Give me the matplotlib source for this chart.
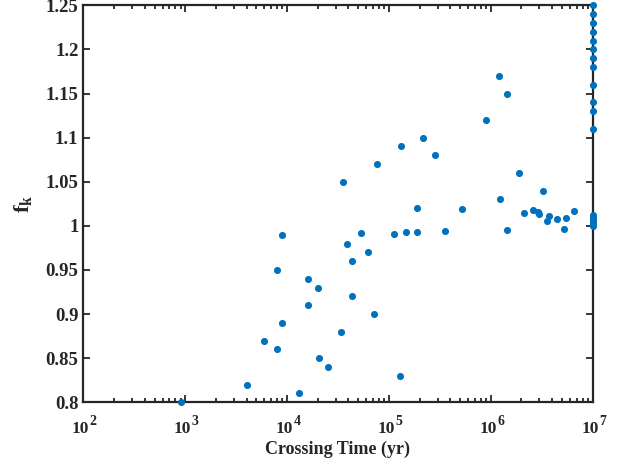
import numpy as np
import matplotlib
matplotlib.use("Agg")
import matplotlib.pyplot as plt
from matplotlib.ticker import LogLocator, FixedLocator, NullFormatter

plt.rcParams['font.family'] = ['Liberation Serif', 'DejaVu Serif']
plt.rcParams['font.weight'] = 'bold'
plt.rcParams['mathtext.fontset'] = 'custom'
plt.rcParams['mathtext.rm'] = 'Liberation Serif:bold'
plt.rcParams['mathtext.it'] = 'Liberation Serif:bold'
plt.rcParams['mathtext.bf'] = 'Liberation Serif:bold'

# crossing time (yr) and f_k
crossing_time = [
    912, 4025, 5960, 8000, 8000, 9020, 9020, 13150, 16100, 16100,
    20100, 20800, 25350, 33500, 35300, 38600, 43600, 43600, 53500, 61700,
    70600, 76700, 112000, 127000, 130000, 147000, 187000, 190000, 217000, 281000,
    352000, 525000, 904000, 1.2e6, 1.24e6, 1.44e6, 1.45e6, 1.875e6, 2.13e6, 2.58e6,
    2.91e6, 2.98e6, 3.28e6, 3.53e6, 3.76e6, 4.43e6, 5.24e6, 5.52e6, 6.5e6,
]
fk = [
    0.80, 0.82, 0.87, 0.86, 0.95, 0.99, 0.89, 0.81, 0.94, 0.91,
    0.93, 0.85, 0.84, 0.88, 1.05, 0.98, 0.96, 0.92, 0.992, 0.97,
    0.90, 1.07, 0.991, 0.83, 1.09, 0.993, 1.02, 0.9934, 1.10, 1.08,
    0.9945, 1.019, 1.12, 1.17, 1.03, 0.9957, 1.15, 1.06, 1.015, 1.018,
    1.016, 1.014, 1.04, 1.0055, 1.0115, 1.0078, 0.9968, 1.009, 1.017,
]
# systems capped at 1e7 yr
capped_time = 1e7
capped_fk = [1.25, 1.24, 1.23, 1.22, 1.21, 1.20, 1.19, 1.18, 1.16, 1.14,
             1.13, 1.11, 1.012, 1.010, 1.007, 1.003, 1.000]

x_exponents = [2, 3, 4, 5, 6, 7]
y_ticks = [0.8, 0.85, 0.9, 0.95, 1.0, 1.05, 1.1, 1.15, 1.2, 1.25]
y_ticklabels = ['0.8', '0.85', '0.9', '0.95', '1', '1.05', '1.1', '1.15', '1.2', '1.25']

fig = plt.figure(figsize=(6.33, 4.65), dpi=100)
ax = fig.add_axes([0.1316, 0.1348, 0.8047, 0.8538])

col = '#0072BD'
ax.scatter(crossing_time, fk, s=26, color=col, zorder=3, clip_on=False, linewidths=0)
ax.scatter(np.full(len(capped_fk), capped_time), capped_fk, s=26, color=col,
           zorder=3, clip_on=False, linewidths=0)

ax.set_xscale('log')
ax.set_xlim(1e2, 1e7)
ax.set_ylim(0.8, 1.25)
ax.xaxis.set_major_locator(FixedLocator([10.0 ** e for e in x_exponents]))
ax.xaxis.set_minor_locator(LogLocator(base=10, subs=np.arange(2, 10), numticks=20))
ax.xaxis.set_major_formatter(NullFormatter())
ax.xaxis.set_minor_formatter(NullFormatter())
ax.yaxis.set_major_locator(FixedLocator(y_ticks))
ax.set_yticklabels(y_ticklabels)

dark = '#262626'
for s in ax.spines.values():
    s.set_linewidth(1.6)
    s.set_color(dark)
ax.tick_params(which='both', direction='in', top=True, right=True, colors=dark,
               labelsize=13.5, width=1.3)
ax.tick_params(which='major', length=5)
ax.tick_params(which='minor', length=3)
ax.yaxis.set_tick_params(which='minor', length=0)

# MATLAB-style 10^n labels: base and exponent drawn separately
for e in x_exponents:
    ax.annotate('10', xy=(10.0 ** e, 0), xycoords=ax.get_xaxis_transform(),
                xytext=(-2, -19.5), textcoords='offset points',
                ha='center', va='center', fontsize=12.5, fontweight='bold', color=dark)
    ax.annotate(str(e), xy=(10.0 ** e, 0), xycoords=ax.get_xaxis_transform(),
                xytext=(7, -13.5), textcoords='offset points',
                ha='center', va='center', fontsize=10, fontweight='bold', color=dark)

ax.set_xlabel('Crossing Time (yr)', fontsize=13, fontweight='bold', color=dark, labelpad=24)
ax.set_ylabel(r'$\mathrm{f_k}$', fontsize=16, color=dark, labelpad=8)

fig.savefig('out.png', dpi=100)
